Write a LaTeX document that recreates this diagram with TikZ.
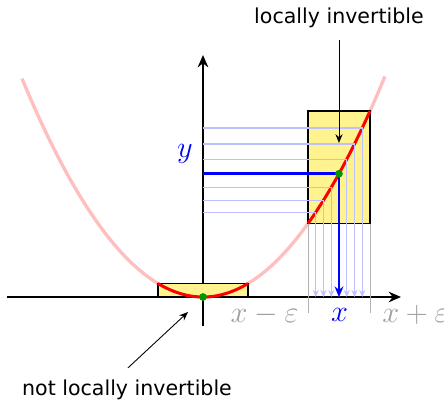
\documentclass[tikz,border=0pt]{standalone}
\usepackage{amsmath,amssymb}
\usepackage{fontspec}
\usepackage{xcolor}
\usetikzlibrary{arrows.meta,calc,positioning}
\newfontfamily\notefont{DejaVu Sans}
\definecolor{boxfill}{RGB}{255,243,143}
\definecolor{dotgreen}{RGB}{0,150,0}

\begin{document}
\begin{tikzpicture}[x=2cm,y=2cm,
  note/.style={font=\notefont\fontsize{11.7}{13}\selectfont},
  edge/.style={gray!60,line width=0.5pt},
  sample/.style={blue!25,line width=0.7pt,-{Stealth[length=4pt,width=3.5pt]}}]
\useasboundingbox (-2.03,-1.05) rectangle (2.41,2.97);
\draw[line width=1.1pt,-{Stealth[length=7pt,width=6pt]}] (-1.96,0)--(1.98,0);
\draw[line width=1.1pt,-{Stealth[length=7pt,width=6pt]}] (0,-0.29)--(0,2.42);
\draw[red!25,line width=1.9pt,domain=-1.81:1.82,samples=90] plot (\x,{\x*\x/1.5});
\filldraw[fill=boxfill,line width=1.1pt] (-0.45,0) rectangle (0.45,0.135);
\filldraw[fill=boxfill,line width=1.1pt] (1.05,0.735) rectangle (1.67,1.86);
\draw[red,line width=1.7pt,domain=-0.45:0.45,samples=30] plot (\x,{\x*\x/1.5});
\draw[red,line width=1.7pt,domain=1.05:1.67,samples=30] plot (\x,{\x*\x/1.5});
\foreach \i in {-3,...,3}{\pgfmathsetmacro\xs{1.36+0.0775*\i} \draw[sample] (0,{\xs*\xs/1.5}) -| (\xs,0);}
\coordinate (O) at (0,0);
\coordinate (P) at (1.36,{1.36*1.36/1.5});
\coordinate (Px) at (1.36,0); \coordinate (Py) at (0,{1.36*1.36/1.5});
\draw[blue,line width=1.4pt,-{Stealth[length=6pt,width=5pt]}] (Py) -- (P) -- (Px);
\draw[edge] (1.05,0.735)--(1.05,-0.16); \draw[edge] (1.67,0.735)--(1.67,-0.16);
\fill[dotgreen] (O) circle (2.2pt); \fill[dotgreen] (P) circle (2.2pt);
\node[gray!75,anchor=base east,font=\fontsize{16}{19}\selectfont,inner sep=0pt] (xm) at (0.96,-0.255) {$x-\varepsilon$};
\node[gray!75,anchor=base west,font=\fontsize{16}{19}\selectfont,inner sep=0pt] (xp) at (1.79,-0.255) {$x+\varepsilon$};
\node[blue,anchor=base,font=\fontsize{16}{19}\selectfont,inner sep=0pt] (xl) at (1.365,-0.245) {$x$};
\node[blue,anchor=base,font=\fontsize{18}{21}\selectfont,inner sep=0pt] (yl) at (-0.18,1.395) {$y$};
\node[note] (li) at (1.36,2.79) {locally invertible};
\coordinate (liend) at (1.36,1.54);
\draw[-{Stealth[length=5pt,width=4pt]},line width=0.5pt] (li.south) ++(0,-0.06) -- (liend);
\node[note] (nli) at (-0.76,-0.93) {not locally invertible};
\coordinate (nliend) at (-0.15,-0.15);
\draw[-{Stealth[length=5pt,width=4pt]},line width=0.5pt] ($(nli.north)+(0.01,0.06)$) -- (nliend);
\end{tikzpicture}
\end{document}
